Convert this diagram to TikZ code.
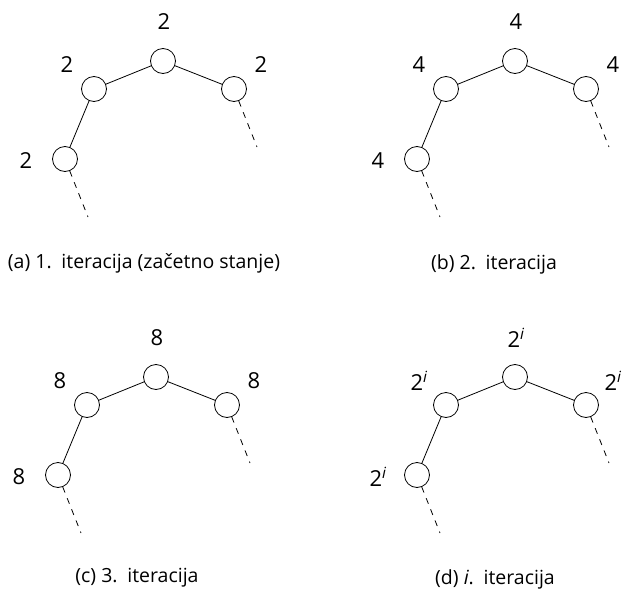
\documentclass[tikz,border=0pt]{standalone}
\usepackage{fontspec}
\setmainfont{Open Sans}
\begin{document}
\begin{tikzpicture}[x=1pt,y=-1pt,
  vertex/.style={circle,draw,line width=0.8pt,minimum size=25pt,inner sep=0pt},
  edge/.style={line width=0.8pt},
  tail/.style={line width=0.8pt,dash pattern=on 6pt off 6pt},
  weight/.style={font=\fontsize{22}{26}\selectfont,inner sep=0pt},
  caption/.style={font=\fontsize{19.5}{23}\selectfont,inner sep=0pt}]
\useasboundingbox (0,0) rectangle (625,592);

% one tree fragment: #1 name prefix, #2 shift, #3 weight text
\newcommand\treepanel[3]{%
  \begin{scope}[shift={#2}]
    \node[vertex] (#1r) at (163,61) {};
    \node[vertex] (#1l) at (94,89) {};
    \node[vertex] (#1p) at (234,89) {};
    \node[vertex] (#1b) at (65,159) {};
    \coordinate (#1bt) at (88,217);
    \coordinate (#1pt) at (257,147);
    \draw[edge] (#1r) -- (#1l);
    \draw[edge] (#1r) -- (#1p);
    \draw[edge] (#1l) -- (#1b);
    \draw[tail] (#1b) -- (#1bt);
    \draw[tail] (#1p) -- (#1pt);
    \node[weight] (#1wr) at (164,22) {#3};
    \node[weight] (#1wl) at (67,65) {#3};
    \node[weight] (#1wp) at (261,65) {#3};
    \node[weight] (#1wb) at (26,161) {#3};
  \end{scope}}

\treepanel{a}{(0,0)}{2}
\treepanel{b}{(352,0)}{4}
\treepanel{c}{(-7,316)}{8}
\treepanel{d}{(352,316)}{2\textsuperscript{\itshape i}}

\node[caption] (capa) at (144,263) {(a) 1.\hspace{0.5em}iteracija (začetno stanje)};
\node[caption] (capb) at (494,264) {(b) 2.\hspace{0.5em}iteracija};
\node[caption] (capc) at (137,578) {(c) 3.\hspace{0.5em}iteracija};
\node[caption] (capd) at (495,579) {(d) \textit{i}.\hspace{0.5em}iteracija};
\end{tikzpicture}
\end{document}
